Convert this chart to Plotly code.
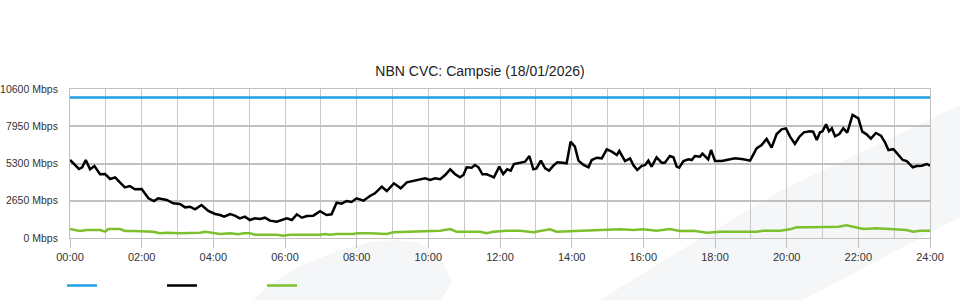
import plotly.graph_objects as go

# ---------------- data ----------------
title_text = "NBN CVC: Campsie (18/01/2026)"
y_ticks = [0, 2650, 5300, 7950, 10600]
y_tick_labels = [f"{v} Mbps" for v in y_ticks]
x_ticks = list(range(0, 25, 2))
x_tick_labels = [f"{h:02d}:00" for h in x_ticks]

capacity_hours = [0, 24]
capacity_mbps = [10000, 10000]

black_hours = [0.00, 0.14, 0.25, 0.34, 0.44, 0.56, 0.68, 0.84, 0.98, 1.12, 1.26, 1.40, 1.53, 1.67, 1.81,
               2.00, 2.19, 2.34, 2.46, 2.70, 2.88, 3.07, 3.21, 3.35, 3.49, 3.67, 3.86, 4.05, 4.19, 4.30,
               4.47, 4.60, 4.74, 4.88, 5.02, 5.16, 5.30, 5.44, 5.58, 5.77, 5.91, 6.05, 6.19, 6.33, 6.47,
               6.61, 6.79, 6.98,
               7.16, 7.30, 7.44, 7.58, 7.72, 7.86, 8.00, 8.19, 8.37, 8.51, 8.70, 8.84, 9.04, 9.23, 9.40,
               9.58, 9.77, 9.91, 10.05, 10.19, 10.33, 10.47, 10.61, 10.74, 10.88, 10.98, 11.07, 11.21,
               11.30, 11.40, 11.51, 11.63, 11.72, 11.83, 11.98, 12.09, 12.20, 12.30, 12.39, 12.56, 12.70,
               12.82, 12.93, 13.02, 13.14, 13.26, 13.37, 13.49, 13.60, 13.74, 13.86, 13.97, 14.09, 14.19,
               14.33, 14.47, 14.56, 14.70, 14.84, 14.98, 15.12, 15.26, 15.33, 15.49,
               15.63, 15.72, 15.83, 15.95, 16.05, 16.14, 16.23, 16.37, 16.51, 16.60, 16.74, 16.84, 16.93,
               17.00, 17.12, 17.26, 17.35, 17.44, 17.58, 17.65, 17.81, 17.89, 18.00, 18.19, 18.37, 18.56,
               18.79, 18.98, 19.16, 19.30, 19.44, 19.58, 19.72, 19.86, 19.98, 20.09, 20.23, 20.35, 20.48,
               20.65, 20.74, 20.84, 20.93, 21.00, 21.10, 21.18, 21.26, 21.35, 21.47, 21.58, 21.69, 21.84,
               22.00, 22.11, 22.23, 22.35, 22.49, 22.63, 22.74, 22.84, 22.98, 23.12, 23.24, 23.35, 23.52,
               23.63, 23.77, 23.91, 24.00]
black_mbps = [5549, 5193, 4909, 5030, 5549, 4887, 5122, 4530, 4553, 4197, 4316, 3936, 3604, 3699, 3462,
              3486, 2822, 2632, 2822, 2703, 2466, 2418, 2182, 2229, 2040, 2347, 1921, 1707, 1636, 1518,
              1707, 1589, 1399, 1518, 1280, 1399, 1352, 1446, 1233, 1162, 1280, 1399, 1280, 1684, 1446,
              1565, 1589, 1900,
              1636, 1684, 2513, 2442, 2632, 2561, 2822, 2655, 2988, 3178, 3651, 3343, 3889, 3533, 3960,
              4055, 4126, 4245, 4126, 4245, 4180, 4482, 4885, 4553, 4316, 4482, 5030, 5000,
              5193, 5030, 4530, 4530, 4435, 4316, 5075, 4553, 4885, 4790, 5264, 5383, 5430,
              5833, 4885, 4950, 5501, 4950, 4790, 5146, 5383, 5360, 5312, 6853, 6497, 5501,
              5193, 5030, 5549, 5715, 5667, 6307, 6141, 5904, 6188, 5477,
              5667, 5193, 4838, 5122, 5193, 5501, 5075, 5738, 5360, 5360, 5833, 5738, 5075,
              5000, 5477, 5596, 5549, 5833, 5786, 6000, 5596, 6260, 5477, 5477, 5549, 5667,
              5596, 5501, 6378, 6616, 7043, 6425, 7399, 7731, 7802, 7233, 6687, 7186, 7518,
              7589, 7565, 6972, 7518, 7589, 8086, 7589, 7802, 7233, 7399, 7802, 7494, 8750,
              8513, 7565, 7375, 7067, 7470, 7280, 6830, 6260, 6320, 5904, 5549, 5477, 5030,
              5122, 5146, 5264, 5146]

green_hours = [0.00, 0.28, 0.47, 0.84, 0.98, 1.07, 1.40, 1.53, 1.77, 2.33, 2.51, 2.70, 3.07, 3.63, 3.77,
               4.00, 4.19, 4.47, 4.70, 4.84, 5.02, 5.16, 5.44, 5.58, 5.77, 5.95, 6.14, 6.98, 7.12, 7.26,
               7.44, 7.91, 8.00, 8.37, 8.84, 9.02, 9.77, 10.05, 10.33, 10.61, 10.79, 11.26, 11.44, 11.63,
               11.81, 12.19, 12.56, 12.93, 13.39, 13.58, 14.05, 14.60, 14.98, 15.35, 15.72,
               16.00, 16.37, 16.74, 17.02, 17.40, 17.77, 18.14, 18.70, 19.16, 19.35, 19.81, 20.09, 20.28,
               20.65, 20.98, 21.07, 21.44, 21.67, 21.95, 22.14, 22.51, 22.88, 23.35, 23.53, 23.72, 24.00]
green_mbps = [640, 498, 569, 569, 450, 640, 640, 498, 498, 450, 332, 379, 332, 379, 450,
              379, 284, 332, 261, 332, 332, 237, 237, 284, 237, 166, 237, 237, 284, 237,
              284, 284, 332, 332, 284, 403, 450, 450, 521, 640, 450, 450, 450, 332,
              450, 521, 521, 403, 616, 450, 498, 521, 569, 616, 569,
              616, 521, 640, 498, 521, 379, 450, 450, 450, 521, 521, 616, 758,
              758, 758, 806, 806, 900, 758, 640, 687, 616, 569, 450, 521, 521]

# ---------------- figure ----------------
L, R, T, B = 70, 30, 89, 62
W, H = 960, 300
PW, PH = W - L - R, H - T - B


def px(x):
    return (x - L) / PW


def py(y):
    return (H - B - y) / PH


fig = go.Figure()
fig.add_trace(go.Scatter(x=capacity_hours, y=capacity_mbps, mode="lines", name="",
                         line=dict(color="#1ba1e2", width=2.5)))
fig.add_trace(go.Scatter(x=black_hours, y=black_mbps, mode="lines", name=" ",
                         line=dict(color="#000000", width=2.5)))
fig.add_trace(go.Scatter(x=green_hours, y=green_mbps, mode="lines", name="  ",
                         line=dict(color="#7cc02e", width=2.5)))

wm = "#f5f6f8"
blob = [(253, 300), (272, 283), (300, 266), (340, 250), (370, 242), (395, 240), (420, 243),
        (440, 256), (452, 283), (440, 300)]
band = [(600, 300), (663, 261), (780, 191), (960, 105), (960, 217), (803, 300)]
for poly in (blob, band):
    path = "M " + " L ".join(f"{px(a):.4f},{py(b):.4f}" for a, b in poly) + " Z"
    fig.add_shape(type="path", path=path, xref="paper", yref="paper",
                  fillcolor=wm, line=dict(width=0), layer="below")

font = "Liberation Sans, Arial, sans-serif"
fig.update_layout(
    width=W, height=H,
    margin=dict(l=L, r=R, t=T, b=B, pad=0, autoexpand=False),
    paper_bgcolor="white", plot_bgcolor="rgba(0,0,0,0)",
    font=dict(family=font, size=11, color="#333333"),
    title=dict(text=title_text, x=0.5, xanchor="center", y=1 - 71 / H, yanchor="middle",
               yref="container", font=dict(family=font, size=14, color="#222222")),
    showlegend=True,
    legend=dict(orientation="h", x=px(62), xanchor="left", y=py(271), yanchor="top",
                entrywidth=55, entrywidthmode="pixels", bgcolor="rgba(0,0,0,0)",
                font=dict(size=11), itemwidth=30),
    xaxis=dict(range=[0, 24], tickvals=x_ticks, ticktext=x_tick_labels,
               showgrid=True, gridcolor="#c8c8c8", gridwidth=1,
               minor=dict(dtick=1, tick0=0, showgrid=True, gridcolor="#c8c8c8", gridwidth=1),
               ticks="outside", ticklen=9, tickcolor="#c0c0c0", tickwidth=1,
               showline=True, linecolor="#c0c0c0", linewidth=1, mirror=True,
               zeroline=False, fixedrange=True, automargin=False),
    yaxis=dict(range=[0, 10600], tickvals=y_ticks, ticktext=y_tick_labels,
               tickfont=dict(size=10.5),
               showgrid=True, gridcolor="#c0c0c0", gridwidth=2,
               ticks="", ticklabelstandoff=9,
               showline=True, linecolor="#c0c0c0", linewidth=1, mirror=True,
               zeroline=False, fixedrange=True, automargin=False),
)

fig.write_html("out.html")
